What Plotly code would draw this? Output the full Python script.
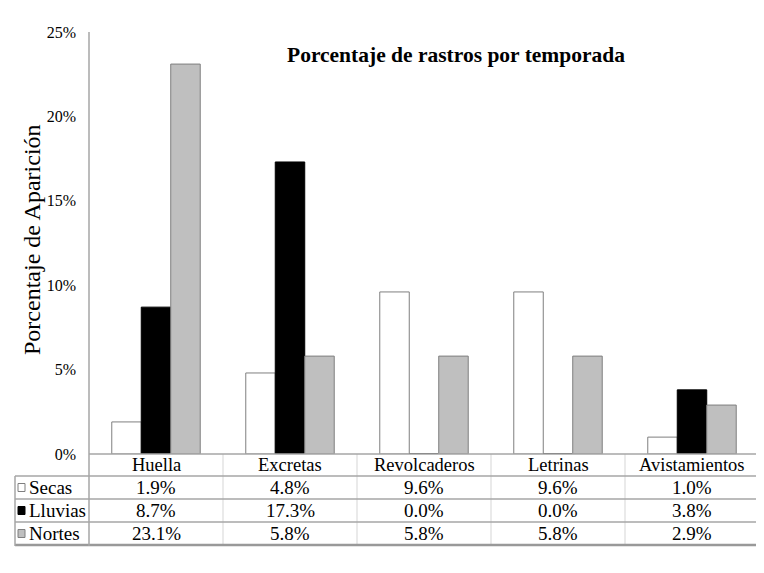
import plotly.graph_objects as go

categories = ["Huella", "Excretas", "Revolcaderos", "Letrinas", "Avistamientos"]
series_names = ["Secas", "Lluvias", "Nortes"]
secas = [0.019, 0.048, 0.096, 0.096, 0.010]
lluvias = [0.087, 0.173, 0.000, 0.000, 0.038]
nortes = [0.231, 0.058, 0.058, 0.058, 0.029]
y_ticks = [0, 0.05, 0.10, 0.15, 0.20, 0.25]

OFF = 8  # page body margin
W, H = 764 - OFF, 573 - OFF
# target plot area in window pixels: x 89..759, y 32..454
L, T = 89 - OFF, 32 - OFF
PW, PH = 759 - 89, 454 - 32
R, B = W - L - PW, H - T - PH
FONT = "Liberation Serif, Times New Roman, Times, serif"


def px(x):
    return (x - OFF - L) / PW


def py(y):
    return (454 - y) / PH


fills = ["#ffffff", "#000000", "#bfbfbf"]
lines = ["#7f7f7f", "#000000", "#7f7f7f"]
values = [secas, lluvias, nortes]

fig = go.Figure()
for name, vals, fc, lc in zip(series_names, values, fills, lines):
    fig.add_trace(go.Bar(x=categories, y=vals, name=name,
                         marker=dict(color=fc, line=dict(color=lc, width=1))))

shapes = []
annotations = []
grid_dark = "#a6a6a6"
grid_light = "#e3e3e3"

row_lines = [476, 499, 522, 545]
row_centers = [487.5, 510.5, 533.5]
header_center = 465
x_left = 15
x_right = 759

n = len(categories)
for k in range(1, n):
    xx = k / n
    shapes.append(dict(type="line", xref="paper", yref="paper", x0=xx, x1=xx,
                       y0=py(454), y1=py(545), line=dict(color=grid_light, width=1.5)))
for i, yy in enumerate(row_lines):
    last = i == len(row_lines) - 1
    shapes.append(dict(type="line", xref="paper", yref="paper", x0=px(x_left), x1=px(x_right),
                       y0=py(yy), y1=py(yy),
                       line=dict(color="#999999" if last else grid_dark, width=2.5 if last else 1.5)))
shapes.append(dict(type="line", xref="paper", yref="paper", x0=px(x_left), x1=px(x_left),
                   y0=py(476), y1=py(546), line=dict(color=grid_dark, width=1.5)))
shapes.append(dict(type="line", xref="paper", yref="paper", x0=px(x_right), x1=px(x_right),
                   y0=py(454), y1=py(546), line=dict(color=grid_dark, width=1.5)))
shapes.append(dict(type="line", xref="paper", yref="paper", x0=0, x1=0,
                   y0=1, y1=py(546), line=dict(color=grid_dark, width=1.5)))
shapes.append(dict(type="line", xref="paper", yref="paper", x0=0, x1=px(x_right),
                   y0=0, y1=0, line=dict(color=grid_dark, width=1.5)))

for c in categories:
    annotations.append(dict(x=c, xref="x", y=py(header_center), yref="paper", text=c,
                            showarrow=False, font=dict(family=FONT, size=18.5, color="#000"),
                            xanchor="center", yanchor="middle"))
for name, vals, fc, lc, yc in zip(series_names, values, fills, lines, row_centers):
    shapes.append(dict(type="rect", xref="paper", yref="paper",
                       x0=px(18), x1=px(25), y0=py(yc - 4), y1=py(yc + 4),
                       fillcolor=fc, line=dict(color=lc, width=1)))
    annotations.append(dict(x=px(27), xref="paper", y=py(yc), yref="paper", text=name,
                            showarrow=False, font=dict(family=FONT, size=19, color="#000"),
                            xanchor="left", yanchor="middle"))
    for c, v in zip(categories, vals):
        annotations.append(dict(x=c, xref="x", y=py(yc), yref="paper", text=f"{v:.1%}",
                                showarrow=False, font=dict(family=FONT, size=19, color="#000"),
                                xanchor="center", yanchor="middle"))

annotations.append(dict(x=px(456), xref="paper", y=py(55), yref="paper",
                        text="<b>Porcentaje de rastros por temporada</b>", showarrow=False,
                        font=dict(family=FONT, size=21.5, color="#000"),
                        xanchor="center", yanchor="middle"))
annotations.append(dict(x=px(32), xref="paper", y=py(240), yref="paper",
                        text="Porcentaje de Aparición", showarrow=False, textangle=-90,
                        font=dict(family=FONT, size=24, color="#000"),
                        xanchor="center", yanchor="middle"))

fig.update_layout(
    width=W, height=H,
    margin=dict(l=L, r=R, t=T, b=B, autoexpand=False),
    paper_bgcolor="white", plot_bgcolor="white",
    barmode="group", bargap=0.34, bargroupgap=0,
    showlegend=False,
    shapes=shapes, annotations=annotations,
    font=dict(family=FONT, color="#000"),
)
fig.update_xaxes(showticklabels=False, showgrid=False, zeroline=False, showline=False, ticks="")
fig.update_yaxes(range=[0, 0.25], tickvals=y_ticks, tickformat=".0%", showgrid=False,
                 zeroline=False, showline=False, ticks="",
                 tickfont=dict(family=FONT, size=16, color="#000"), ticklabelstandoff=12)

fig.write_html("out.html")
